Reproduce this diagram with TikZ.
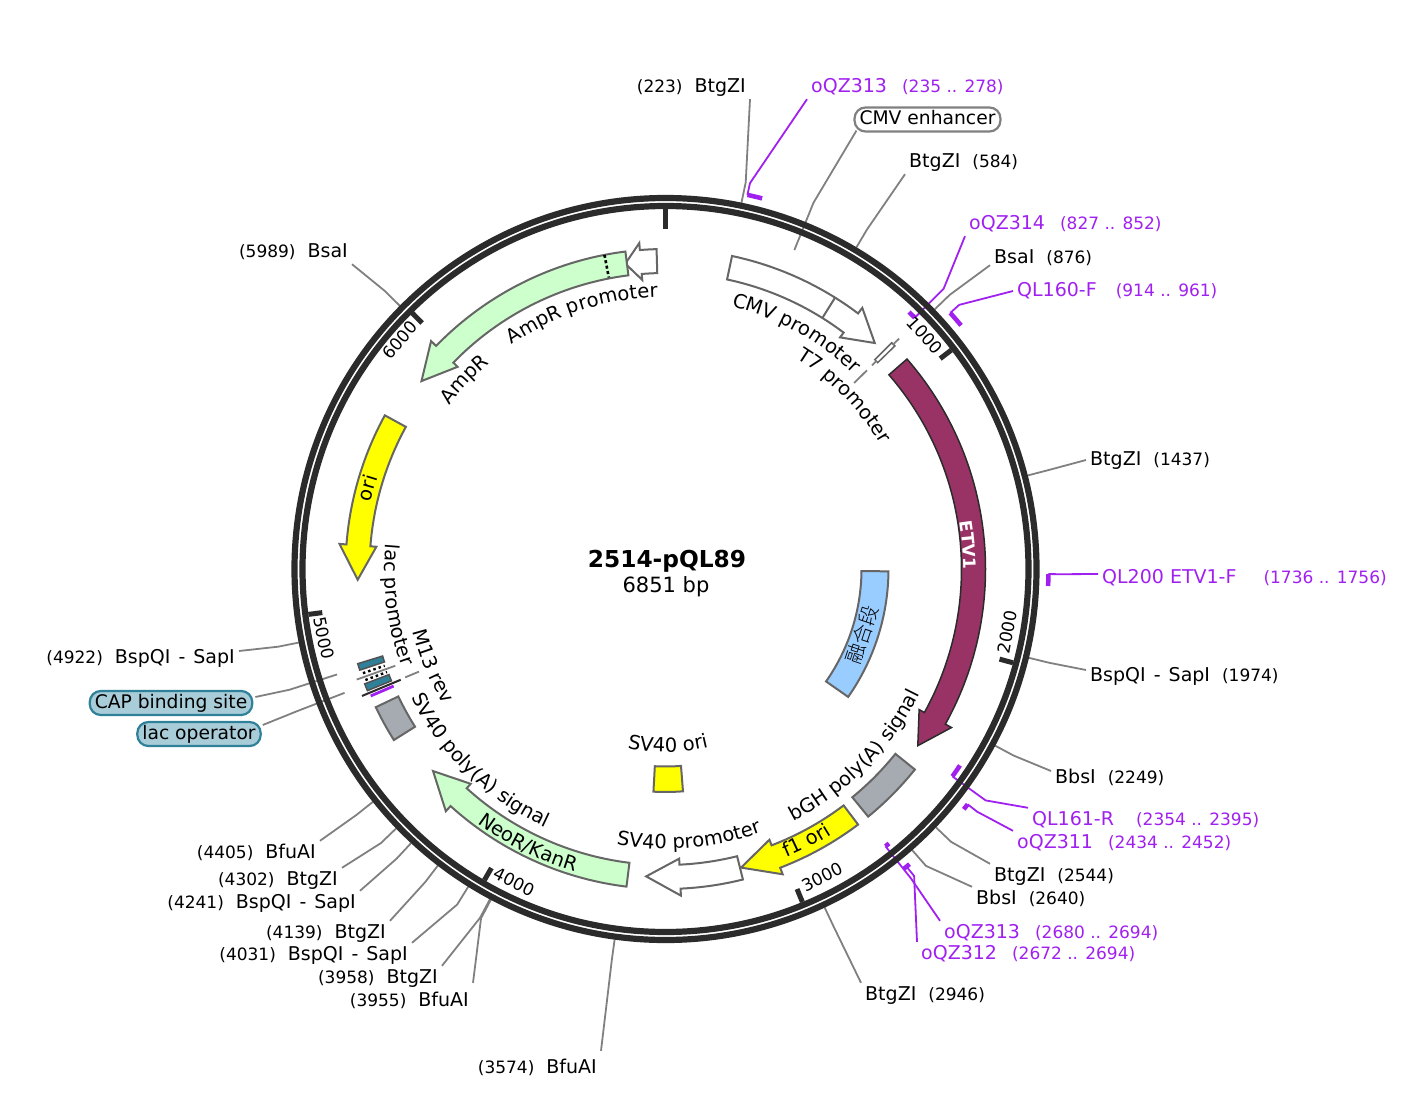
\documentclass[tikz,border=0pt]{standalone}
\usepackage{fontspec}
\setmainfont{DejaVu Sans}
\newfontfamily\cjkfont{Noto Sans CJK SC Light}
\usetikzlibrary{decorations.text}
\definecolor{plasring} {HTML}{2B2B2B}
\definecolor{leadgray} {HTML}{808080}
\definecolor{featgray} {HTML}{666666}
\definecolor{primpurp} {HTML}{A020F0}
\definecolor{etvred}   {HTML}{993366}
\definecolor{mintgreen}{HTML}{CCFFCC}
\definecolor{sigyellow}{HTML}{FFFF00}
\definecolor{polygray} {HTML}{A6ABB2}
\definecolor{fusblue}  {HTML}{99CCFF}
\definecolor{lacteal}  {HTML}{2F8099}
\definecolor{lacpale}  {HTML}{A8CCD8}
\newcommand{\namefont}{\fontsize{19}{20}\selectfont}
\newcommand{\crdfont}{\fontsize{17}{20}\selectfont}
\newcommand{\featfont}{\fontsize{19.5}{22}\selectfont}
\newcommand{\crd}[1]{{\crdfont #1}}
\newcommand{\bspname}{BspQI\kern2pt{} - \kern2pt{}SapI}
%% arrow on the feature ring: tail angle, head angle, tip angle
\newcommand{\bandarrow}[3]{(#1:320) arc[start angle=#1,end angle=#2,radius=320]
  -- (#2:327) -- (#3:308) -- (#2:290) -- (#2:296)
  arc[start angle=#2,end angle=#1,radius=296] -- cycle}
%% plain band: from angle, to angle, outer radius, inner radius
\newcommand{\bandbox}[4]{(#1:#3) arc[start angle=#1,end angle=#2,radius=#3]
  -- (#2:#4) arc[start angle=#2,end angle=#1,radius=#4] -- cycle}
\begin{document}
\begin{tikzpicture}[
  x=1pt, y=1pt,
  lead/.style    ={draw=leadgray,line width=1.8pt},
  primlead/.style={draw=primpurp,line width=1.8pt},
  primbar/.style ={draw=primpurp,line width=4.5pt},
  feat/.style    ={draw=featgray,line width=2pt},
  ringline/.style={draw=plasring,line width=6.2pt},
  tickmark/.style={draw=plasring,line width=5pt},
  site/.style    ={font=\namefont,inner xsep=4pt,inner ysep=3pt,yshift=-1pt,
                   text height=14pt,text depth=4pt},
  prim/.style    ={site,text=primpurp},
  ticklbl/.style ={font=\crdfont,inner sep=0pt},
  pill/.style    ={font=\fontsize{18.7}{20}\selectfont,rounded corners=11pt,line width=2.2pt,
                   minimum height=24pt,inner ysep=0pt,inner xsep=5pt,
                   text height=14pt,text depth=4pt},
  arclbl/.style  ={decorate,decoration={text along path,text align=center,
                   text={|\featfont|#1}}}
]
\useasboundingbox (0,0) rectangle (1425,-1100);

%% Anchor points round the ring (centre 665.5,-569)
\begin{scope}[shift={(665.5,-569)}]
  \foreach \bp in {223,584,876,1437,1974,2249,2544,2640,2946,3574,
                   3955,3958,4031,4139,4241,4302,4405,4922,5989}{
    \pgfmathsetmacro\ang{90-\bp*0.052547}
    \coordinate (s\bp) at (\ang:374);
    \coordinate (b\bp) at (\ang:395);
  }
  \coordinate (capend)  at (197.8:345);
  \coordinate (capbend) at (197.8:395);
  \coordinate (opend)   at (201.1:344);
  \coordinate (opbend)  at (201.1:395);
  \coordinate (cmvend)  at (68:344);
  \coordinate (cmvbend) at (68:395);
  %% Primer bars
  \foreach \pid/\first/\last/\tie/\rad in {
      p235/235/278/235/383, p827/827/852/852/354, p914/914/961/914/383,
      p1736/1727/1761/1727/383, p2354/2354/2395/2395/354,
      p2434/2434/2452/2434/383, p2680/2680/2694/2694/354,
      p2672/2672/2694/2683/383}{
    \pgfmathsetmacro\anga{90-\first*0.052547}
    \pgfmathsetmacro\angb{90-\last*0.052547}
    \pgfmathsetmacro\angt{90-\tie*0.052547}
    \draw[primbar] (\anga:\rad) arc[start angle=\anga,end angle=\angb,radius=\rad];
    \coordinate (\pid)  at (\angt:\rad);
    \coordinate (\pid b) at (\angt:395);
  }
\end{scope}

%% Site labels, right of the ring
\node[site,anchor=west] (btg584)  at (905,-161)  {BtgZI\hspace{12pt}\crd{(584)}};
\node[site,anchor=west] (bsa876)  at (990,-257)  {BsaI\hspace{12pt}\crd{(876)}};
\node[site,anchor=west] (btg1437) at (1086,-459) {BtgZI\hspace{12pt}\crd{(1437)}};
\node[site,anchor=west] (bsp1974) at (1086,-675) {\bspname\hspace{12pt}\crd{(1974)}};
\node[site,anchor=west] (bbs2249) at (1051,-777) {BbsI\hspace{12pt}\crd{(2249)}};
\node[site,anchor=west] (btg2544) at (990,-875)  {BtgZI\hspace{12pt}\crd{(2544)}};
\node[site,anchor=west] (bbs2640) at (972,-898)  {BbsI\hspace{12pt}\crd{(2640)}};
\node[site,anchor=west] (btg2946) at (861,-994)  {BtgZI\hspace{12pt}\crd{(2946)}};

%% Site labels, left of the ring
\node[site,anchor=east] (btg223)  at (750,-86)   {\crd{(223)}\hspace{12pt}BtgZI};
\node[site,anchor=east] (bsa5989) at (352,-251)  {\crd{(5989)}\hspace{12pt}BsaI};
\node[site,anchor=east] (bsp4922) at (239,-657)  {\crd{(4922)}\hspace{12pt}\bspname};
\node[site,anchor=east] (bfu4405) at (320,-852)  {\crd{(4405)}\hspace{12pt}BfuAI};
\node[site,anchor=east] (btg4302) at (342,-879)  {\crd{(4302)}\hspace{12pt}BtgZI};
\node[site,anchor=east] (bsp4241) at (360,-902)  {\crd{(4241)}\hspace{12pt}\bspname};
\node[site,anchor=east] (btg4139) at (390,-932)  {\crd{(4139)}\hspace{12pt}BtgZI};
\node[site,anchor=east] (bsp4031) at (412,-954)  {\crd{(4031)}\hspace{12pt}\bspname};
\node[site,anchor=east] (btg3958) at (442,-977)  {\crd{(3958)}\hspace{12pt}BtgZI};
\node[site,anchor=east] (bfu3955) at (473,-1000) {\crd{(3955)}\hspace{12pt}BfuAI};
\node[site,anchor=east] (bfu3574) at (601,-1067) {\crd{(3574)}\hspace{12pt}BfuAI};

%% Primer labels
\node[prim,anchor=west] (oqz235)  at (807,-86)   {oQZ313\hspace{15pt}\crd{(235 .. 278)}};
\node[prim,anchor=west] (oqz827)  at (965,-223)  {oQZ314\hspace{15pt}\crd{(827 .. 852)}};
\node[prim,anchor=west] (ql914)   at (1013,-290) {QL160-F\hspace{19pt}\crd{(914 .. 961)}};
\node[prim,anchor=west] (ql1736)  at (1098,-577) {QL200 ETV1-F\hspace{27pt}\crd{(1736 .. 1756)}};
\node[prim,anchor=west] (ql2354)  at (1028,-819) {QL161-R\hspace{22pt}\crd{(2354 .. 2395)}};
\node[prim,anchor=west] (oqz2434) at (1013,-842) {oQZ311\hspace{15pt}\crd{(2434 .. 2452)}};
\node[prim,anchor=west] (oqz2680) at (940,-932)  {oQZ313\hspace{15pt}\crd{(2680 .. 2694)}};
\node[prim,anchor=west] (oqz2672) at (917,-953)  {oQZ312\hspace{15pt}\crd{(2672 .. 2694)}};

%% Rounded labels
\node[pill,draw=leadgray,fill=white] (cmvenh) at (927.5,-119.5) {CMV enhancer};
\node[pill,draw=lacteal,fill=lacpale] (capsite) at (171,-703) {CAP binding site};
\node[pill,draw=lacteal,fill=lacpale] (lacop)   at (199,-734) {lac operator};

%% Plasmid title
\node[font=\fontsize{23.3}{26}\selectfont\bfseries] (plasname) at (667,-561) {2514-pQL89};
\node[font=\fontsize{21}{24}\selectfont] (plaslen) at (666,-587) {6851 bp};

%% Connectors, under the ring
\draw[lead] (btg223.south east) -- (b223) -- (s223);
\draw[lead] (btg584.south west) -- (b584) -- (s584);
\draw[lead] ([yshift=5pt]bsa876.south west) -- (b876) -- (s876);
\draw[lead] (btg1437.west) -- (b1437) -- (s1437);
\draw[lead] ([yshift=6pt]bsp1974.west) -- (b1974) -- (s1974);
\draw[lead] ([yshift=7pt]bbs2249.west) -- (b2249) -- (s2249);
\draw[lead] (btg2544.north west) -- (b2544) -- (s2544);
\draw[lead] (bbs2640.north west) -- (b2640) -- (s2640);
\draw[lead] (btg2946.north west) -- (b2946) -- (s2946);
\draw[lead] ([yshift=5pt]bfu3574.north east) -- (b3574) -- (s3574);
\draw[lead] ([yshift=6pt]bfu3955.north east) -- (b3955) -- (s3955);
\draw[lead] (btg3958.north east) -- (b3958) -- (s3958);
\draw[lead] (bsp4031.north east) -- (b4031) -- (s4031);
\draw[lead] (btg4139.north east) -- (b4139) -- (s4139);
\draw[lead] (bsp4241.north east) -- (b4241) -- (s4241);
\draw[lead] (btg4302.north east) -- (b4302) -- (s4302);
\draw[lead] (bfu4405.north east) -- (b4405) -- (s4405);
\draw[lead] ([yshift=7pt]bsp4922.east) -- (b4922) -- (s4922);
\draw[lead] (bsa5989.south east) -- (b5989) -- (s5989);
\draw[lead] ([xshift=3pt,yshift=2pt]cmvenh.south west) -- (cmvbend) -- (cmvend);
\draw[lead] ([xshift=2pt,yshift=6pt]capsite.east) -- (capbend) -- (capend);
\draw[lead] ([xshift=1pt,yshift=9pt]lacop.east) -- (opbend) -- (opend);

\draw[primlead] (oqz235.south west) -- (p235b) -- (p235);
\draw[primlead] (oqz827.south west) -- (p827b) -- (p827);
\draw[primlead] (ql914.west) -- (p914b) -- (p914);
\draw[primlead] ([yshift=4pt]ql1736.west) -- (p1736b) -- (p1736);
\draw[primlead] (ql2354.north west) -- (p2354b) -- (p2354);
\draw[primlead] (oqz2434.north west) -- (p2434b) -- (p2434);
\draw[primlead] (oqz2680.north west) -- (p2680b) -- (p2680);
\draw[primlead] (oqz2672.north west) -- (p2672b) -- (p2672);

\begin{scope}[shift={(665.5,-569)}]
  %% Backbone and ticks
  \draw[ringline] (0,0) circle[radius=371];
  \draw[ringline] (0,0) circle[radius=363];
  \draw[tickmark] (90:360) -- (90:340);
  \foreach \bp in {1000,2000,...,6000}{
    \pgfmathsetmacro\ang{90-\bp*0.052547}
    \draw[tickmark] (\ang:360) -- (\ang:346);
  }

  %% Features
  \draw[feat,fill=white]      \bandarrow{78}{53}{47.2};
  \draw[feat] (58:320) -- (58:296);
  \draw[feat,line width=1.5pt,fill=white] \bandbox{44.2}{45}{320}{296};
  \draw[lead] (44.6:328) -- (44.6:319);
  \draw[lead] (44.6:296) -- (44.6:290);
  \draw[lead] (44.6:283) -- (44.6:265);
  \draw[draw=plasring,line width=1.5pt,fill=etvred] \bandarrow{41}{-29}{-35};
  \draw[feat,fill=polygray]   \bandbox{-38.8}{-50.7}{320}{295};
  \draw[feat,fill=sigyellow]  \bandarrow{-53}{-69}{-75.8};
  \draw[feat,fill=white]      \bandarrow{-76}{-87.3}{-93.6};
  \draw[feat,fill=mintgreen]  \bandarrow{-97}{-132.2}{-139};
  \draw[feat,fill=white]      \bandarrow{91.6}{94.6}{97.5};
  \draw[feat,fill=mintgreen]  \bandarrow{97.2}{135.8}{142.4};
  \draw[draw=black,line width=2.6pt,dash pattern=on 3pt off 2.5pt] (101:320) -- (101:297);
  \draw[feat,fill=sigyellow]  \bandarrow{151.3}{175.6}{182};
  \draw[feat,fill=polygray]   \bandbox{212.2}{205.5}{321}{296};
  \draw[feat,fill=fusblue]    \bandbox{-0.6}{-35}{223}{196};
  \draw[feat,fill=sigyellow]  \bandbox{-85.5}{-93.1}{223}{197.5};

  %% lac region
  \draw[draw=featgray!80!black,line width=1.5pt,fill=lacteal] \bandbox{197.1}{198.3}{322}{296};
  \draw[draw=black,line width=2.4pt,dash pattern=on 2.5pt off 3pt] (199:320) -- (199:297);
  \draw[draw=black,line width=2.4pt,dash pattern=on 2.5pt off 3pt] (200.3:320) -- (200.3:297);
  \draw[lead] (199.7:328) -- (199.7:287);
  \draw[draw=featgray!80!black,line width=1.5pt,fill=lacteal] \bandbox{200.9}{202.2}{322}{296};
  \draw[draw=plasring,line width=2pt] (202.7:329) -- (202.7:287);
  \draw[draw=primpurp,line width=2.8pt] (203.3:321) -- (203.3:296);
  \draw[lead] (202.6:282) -- (202.6:267);

  %% Curved feature labels
  \path[arclbl={CMV promoter}]        (101:271) arc[start angle=101,end angle=21,radius=271];
  \path[arclbl={T7 promoter}]         (84.1:248) arc[start angle=84.1,end angle=4.1,radius=248];
  \path[arclbl={AmpR promoter}]       (148:272) arc[start angle=148,end angle=68,radius=272];
  \path[arclbl={AmpR}]                (170:271) arc[start angle=170,end angle=103.4,radius=271];
  \path[arclbl={ori}]                 (194.8:302) arc[start angle=194.8,end angle=134.8,radius=302];
  \path[arclbl={lac promoter}]        (157.6:281) arc[start angle=157.6,end angle=217.6,radius=281];
  \path[arclbl={M13 rev}]             (172.6:260) arc[start angle=172.6,end angle=232.6,radius=260];
  \path[arclbl={SV40 poly(A) signal}] (186:285) arc[start angle=186,end angle=266,radius=285];
  \path[arclbl={NeoR/KanR}]           (213.4:316) arc[start angle=213.4,end angle=273.4,radius=316];
  \path[arclbl={SV40 promoter}]       (245:280) arc[start angle=245,end angle=305,radius=280];
  \path[arclbl={SV40 ori}]            (220.8:183) arc[start angle=220.8,end angle=320.8,radius=183];
  \path[arclbl={f1 ori}]              (267.4:313) arc[start angle=267.4,end angle=327.4,radius=313];
  \path[arclbl={bGH poly(A) signal}]  (275.4:283) arc[start angle=275.4,end angle=355.4,radius=283];
  \path[decorate,decoration={text along path,text align=center,text color=white,
        text={|\fontsize{17}{20}\selectfont\bfseries|ETV1}}] (34.5:298) arc[start angle=34.5,end angle=-25.5,radius=298];
\end{scope}

%% Ruler numbers
\node[ticklbl,rotate=-48]   (tick1000) at (925,-335) {1000};
\node[ticklbl,rotate=79.5]  (tick2000) at (1007,-632) {2000};
\node[ticklbl,rotate=27]    (tick3000) at (822,-877) {3000};
\node[ticklbl,rotate=-26.5] (tick4000) at (514,-882) {4000};
\node[ticklbl,rotate=-78.6] (tick5000) at (324,-638) {5000};
\node[ticklbl,rotate=49.2]  (tick6000) at (400,-340) {6000};

%% Fusion segment label
\node[font=\cjkfont\fontsize{20}{20}\selectfont,rotate=71.4,inner sep=0pt] (fuslbl) at (862,-635) {融合段};
\end{tikzpicture}
\end{document}
